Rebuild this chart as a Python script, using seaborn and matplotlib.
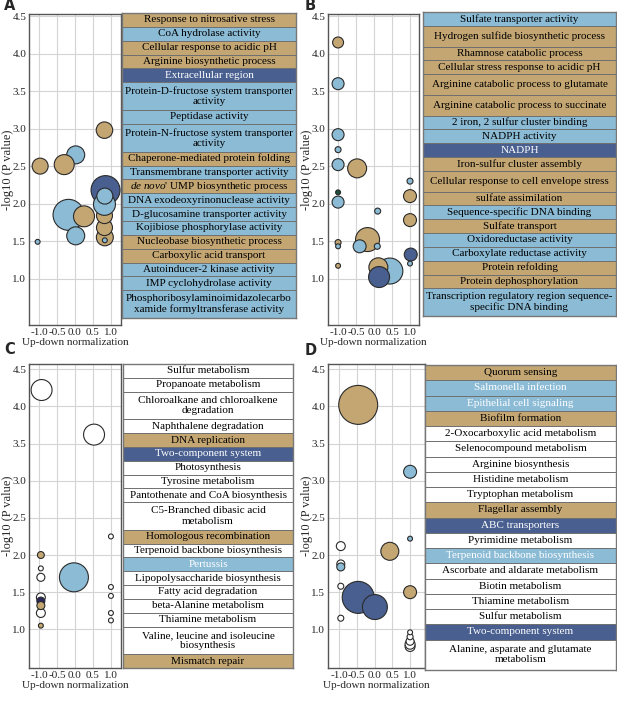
import numpy as np
import pandas as pd
import matplotlib.pyplot as plt
import seaborn as sns

# ---- panel A: GO terms, group 1 ----
a_x = [0.02, -0.30, -0.97, 0.82, -0.18, 0.25, 0.02, -1.04, 0.83, 0.82, 0.82, 0.85, 0.82, 0.83, 0.83]
a_y = [2.65, 2.52, 2.50, 2.98, 1.85, 1.83, 1.57, 1.49, 1.55, 1.68, 1.84, 2.18, 1.99, 2.10, 1.51]
a_n = [81, 100, 64, 68, 240, 110, 81, 6, 72, 64, 64, 210, 121, 64, 6]
a_c = ["down", "up", "up", "up", "down", "up", "down", "down", "up", "up", "up", "both", "down", "down", "down"]

a_terms = ["Response to nitrosative stress", "CoA hydrolase activity",
           "Cellular response to acidic pH", "Arginine biosynthetic process",
           "Extracellular region", "Protein-D-fructose system transporter\nactivity",
           "Peptidase activity", "Protein-N-fructose system transporter\nactivity",
           "Chaperone-mediated protein folding", "Transmembrane transporter activity",
           "$\\it{de\\ novo}$' UMP biosynthetic process", "DNA exodeoxyrinonuclease activity",
           "D-glucosamine transporter activity", "Kojibiose phosphorylase activity",
           "Nucleobase biosynthetic process", "Carboxylic acid transport",
           "Autoinducer-2 kinase activity", "IMP cyclohydrolase activity",
           "Phosphoribosylaminoimidazolecarbo\nxamide formyltransferase activity"]
a_tc = ["up", "down", "up", "up", "both", "down", "down", "down", "up", "down",
        "up", "down", "down", "down", "up", "up", "down", "down", "down"]

# ---- panel B: GO terms, group 2 ----
b_x = [-1.0, -1.0, -1.0, -1.0, -1.0, -0.47, -1.0, -1.0, 1.0, 1.0, 0.10, 1.0, -0.18, -1.0,
       -1.0, -0.40, 0.09, 1.02, 1.0, -1.0, 0.44, 0.12, 0.14]
b_y = [4.15, 3.60, 2.92, 2.72, 2.52, 2.47, 2.15, 2.02, 2.30, 2.10, 1.90, 1.78, 1.52, 1.48,
       1.43, 1.43, 1.43, 1.32, 1.20, 1.17, 1.10, 1.15, 1.02]
b_n = [30, 36, 36, 9, 36, 90, 6, 36, 9, 42, 9, 42, 144, 9, 6, 42, 9, 42, 6, 6, 169, 90, 110]
b_c = ["up", "down", "down", "down", "down", "up", "green", "down", "down", "up", "down", "up",
       "up", "up", "down", "down", "down", "both", "down", "up", "down", "up", "both"]

b_terms = ["Sulfate transporter activity", "Hydrogen sulfide biosynthetic process",
           "Rhamnose catabolic process", "Cellular stress response to acidic pH",
           "Arginine catabolic process to glutamate", "Arginine catabolic process to succinate",
           "2 iron, 2 sulfur cluster binding", "NADPH activity", "NADPH",
           "Iron-sulfur cluster assembly", "Cellular response to cell envelope stress",
           "sulfate assimilation", "Sequence-specific DNA binding", "Sulfate transport",
           "Oxidoreductase activity", "Carboxylate reductase activity", "Protein refolding",
           "Protein dephosphorylation",
           "Transcription regulatory region sequence-\nspecific DNA binding"]
b_tc = ["down", "up", "up", "up", "up", "up", "down", "down", "both", "up", "up", "up",
        "down", "up", "down", "down", "up", "up", "down"]

# ---- panel C: KEGG pathways, group 1 ----
c_x = [-0.93, 0.53, 1.0, -0.95, -0.95, -0.95, -0.03, 1.0, 1.0, 1.0, 1.0, -0.95, -0.95,
       -0.95, -0.95, -0.95]
c_y = [4.22, 3.62, 2.25, 2.00, 1.82, 1.70, 1.70, 1.57, 1.45, 1.22, 1.12, 1.22, 1.43,
       1.38, 1.32, 1.05]
c_n = [110, 110, 6, 12, 6, 16, 210, 6, 6, 6, 6, 20, 20, 16, 16, 6]
c_c = ["none", "none", "none", "up", "none", "none", "down", "none", "none", "none", "none",
       "none", "none", "navy", "up", "up"]

c_terms = ["Sulfur metabolism", "Propanoate metabolism",
           "Chloroalkane and chloroalkene\ndegradation", "Naphthalene degradation",
           "DNA replication", "Two-component system", "Photosynthesis", "Tyrosine metabolism",
           "Pantothenate and CoA biosynthesis", "C5-Branched dibasic acid\nmetabolism",
           "Homologous recombination", "Terpenoid backbone biosynthesis", "Pertussis",
           "Lipopolysaccharide biosynthesis", "Fatty acid degradation",
           "beta-Alanine metabolism", "Thiamine metabolism",
           "Valine, leucine and isoleucine\nbiosynthesis", "Mismatch repair"]
c_tc = ["none", "none", "none", "none", "up", "both", "none", "none", "none", "none",
        "up", "none", "down", "none", "none", "none", "none", "none", "up"]

# ---- panel D: KEGG pathways, group 2 ----
d_x = [-0.46, 1.0, 1.0, -0.95, 0.43, -0.95, -0.95, -0.95, 1.0, -0.46, 0.01, -0.95,
       1.0, 1.0, 1.0, 1.0, 1.0]
d_y = [4.02, 3.12, 2.22, 2.12, 2.05, 1.88, 1.84, 1.58, 1.50, 1.43, 1.30, 1.15,
       0.77, 0.80, 0.84, 0.90, 0.96]
d_n = [380, 42, 6, 20, 81, 16, 16, 9, 42, 256, 156, 9, 25, 25, 16, 9, 6]
d_c = ["up", "down", "down", "none", "up", "none", "down", "none", "up", "both", "both",
       "none", "none", "none", "none", "none", "none"]

d_terms = ["Quorum sensing", "Salmonella infection", "Epithelial cell signaling",
           "Biofilm formation", "2-Oxocarboxylic acid metabolism", "Selenocompound metabolism",
           "Arginine biosynthesis", "Histidine metabolism", "Tryptophan metabolism",
           "Flagellar assembly", "ABC transporters", "Pyrimidine metabolism",
           "Terpenoid backbone biosynthesis", "Ascorbate and aldarate metabolism",
           "Biotin metabolism", "Thiamine metabolism", "Sulfur metabolism",
           "Two-component system", "Alanine, asparate and glutamate\nmetabolism"]
d_tc = ["up", "down", "down", "up", "none", "none", "none", "none", "none", "up", "both",
        "none", "down", "none", "none", "none", "none", "both", "none"]

pal = {"up": "#c4a673", "down": "#8bbbd5", "both": "#485f90", "none": "#ffffff",
       "navy": "#28275e", "green": "#1d4e3e"}

sns.set_style("whitegrid")
plt.rcParams["font.family"] = ["Liberation Serif", "DejaVu Serif"]
plt.rcParams["mathtext.fontset"] = "custom"
plt.rcParams["mathtext.rm"] = "Liberation Serif"
plt.rcParams["mathtext.it"] = "Liberation Serif:italic"
plt.rcParams["axes.unicode_minus"] = False

W, H = 617, 701
fig = plt.figure(figsize=(W / 100, H / 100), dpi=100)


def box(x0, y0, x1, y1):
    return [x0 / W, 1 - y1 / H, (x1 - x0) / W, (y1 - y0) / H]


def bubbles(ax, x, y, n, c, xlim, ylim, label_px):
    df = pd.DataFrame({"x": x, "y": y, "n": n, "c": c})
    sns.scatterplot(data=df, x="x", y="y", hue="c", size="n", palette=pal,
                    sizes=(0, 828), size_norm=(0, 400), edgecolor="#2a2a2a",
                    linewidth=0.8, legend=False, ax=ax, zorder=3)
    ax.set_xlim(*xlim)
    ax.set_ylim(*ylim)
    ax.set_xticks([-1, -0.5, 0, 0.5, 1])
    ax.set_xticklabels(["-1.0", "-0.5", "0.0", "0.5", "1.0"])
    ax.set_yticks(np.arange(1.0, 4.51, 0.5))
    ax.set_yticklabels([f"{v:.1f}" for v in np.arange(1.0, 4.51, 0.5)])
    ax.tick_params(length=0, pad=2, labelsize=8)
    ax.grid(color="#d4d4d4", linewidth=0.8)
    for s in ax.spines.values():
        s.set_color("#555555")
        s.set_linewidth(1.0)
    ax.set_xlabel("Up-down normalization", fontsize=8, labelpad=1)
    ax.set_ylabel("-log10 (P value)", fontsize=9)
    # the label's right edge sits label_px pixels left of the spine
    wpx = ax.get_position().width * W
    ax.yaxis.set_label_coords(-label_px / wpx, 0.5)


def terms_box(ax, terms, tc, rows, white_on_blue):
    h = np.array(rows, dtype=float)
    mid = np.cumsum(h) - h / 2
    ax.barh(mid, 1, height=h, left=0, color=[pal[c] for c in tc],
            edgecolor="#707070", linewidth=0.7)
    for m, t, c in zip(mid, terms, tc):
        white = c == "both" or (white_on_blue and c == "down")
        ax.text(0.5, m, t, ha="center", va="center", fontsize=8, linespacing=1.15,
                color="white" if white else "black")
    ax.set_xlim(0, 1)
    ax.set_ylim(h.sum(), 0)
    ax.set_xticks([])
    ax.set_yticks([])
    ax.grid(False)
    for s in ax.spines.values():
        s.set_color("#777777")
        s.set_linewidth(1.0)


a_rows = [1, 1, 1, 1, 1, 2, 1, 2, 1, 1, 1, 1, 1, 1, 1, 1, 1, 1, 2]
b_rows = [1, 1.5, 1, 1, 1.5, 1.5, 1, 1, 1, 1, 1.5, 1, 1, 1, 1, 1, 1, 1, 2]
c_rows = [1, 1, 2, 1, 1, 1, 1, 1, 1, 2, 1, 1, 1, 1, 1, 1, 1, 2, 1]
d_rows = [1] * 18 + [2]

ax = fig.add_axes(box(29, 14, 121, 325))
bubbles(ax, a_x, a_y, a_n, a_c, (-1.28, 1.28), (0.38, 4.53), 15)
ax = fig.add_axes(box(122, 13, 296, 318))
terms_box(ax, a_terms, a_tc, a_rows, False)

ax = fig.add_axes(box(328, 14, 419, 325))
bubbles(ax, b_x, b_y, b_n, b_c, (-1.28, 1.25), (0.38, 4.53), 15)
ax = fig.add_axes(box(423, 12, 616, 316))
terms_box(ax, b_terms, b_tc, b_rows, False)

ax = fig.add_axes(box(29, 364, 121, 668))
bubbles(ax, c_x, c_y, c_n, c_c, (-1.28, 1.28), (0.48, 4.57), 15)
ax = fig.add_axes(box(123, 364, 293, 668))
terms_box(ax, c_terms, c_tc, c_rows, True)

ax = fig.add_axes(box(328, 364, 425, 668))
bubbles(ax, d_x, d_y, d_n, d_c, (-1.31, 1.42), (0.48, 4.57), 15)
ax = fig.add_axes(box(425, 365, 616, 670))
terms_box(ax, d_terms, d_tc, d_rows, True)

for lab, px, py in [("A", 4, 6), ("B", 305, 6), ("C", 4, 349), ("D", 305, 350)]:
    fig.text(px / W, 1 - py / H, lab, fontsize=10.5, fontweight="bold",
             family="DejaVu Sans", ha="left", va="center")

fig.savefig("out.png", dpi=100)
